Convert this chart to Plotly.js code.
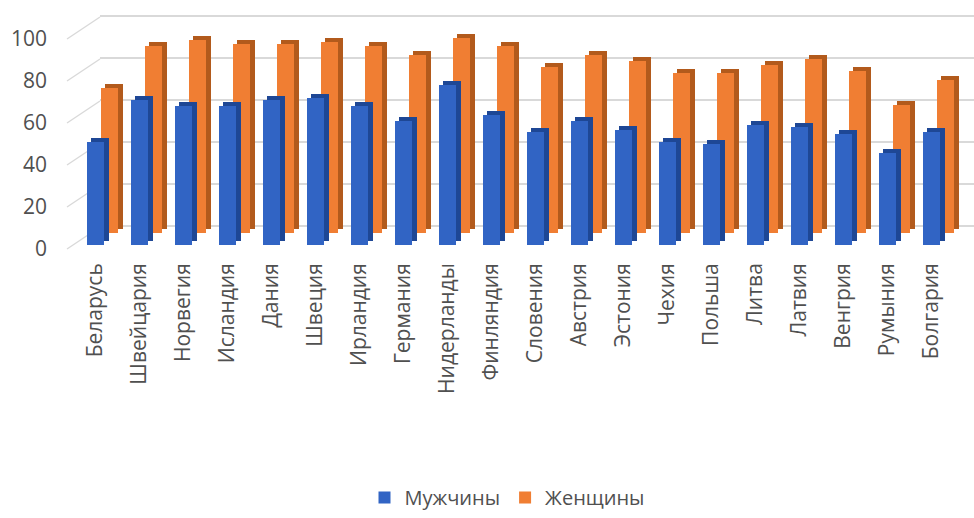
<!DOCTYPE html>
<html>
<head>
<meta charset="utf-8">
<script src="https://cdn.plot.ly/plotly-3.0.1.min.js"></script>
<style>html,body{margin:0;padding:0;background:#fff;}#chart{width:974px;height:518px;}</style>
</head>
<body>
<div id="chart"></div>
<script>
const categories = ["Беларусь","Швейцария","Норвегия","Исландия","Дания","Швеция","Ирландия","Германия","Нидерланды","Финляндия","Словения","Австрия","Эстония","Чехия","Польша","Литва","Латвия","Венгрия","Румыния","Болгария"];
const men   = [49,69,66,66,69,70,66,59,76,62,54,59,55,49,48,57,56,53,44,54];
const women = [69,89,92,90,90,91,89,85,93,89,79,85,82,76,76,80,83,77,61,73];
const seriesNames = ["Мужчины","Женщины"];
const yTicks = [0,20,40,60,80,100];

// layout geometry (pixels)
const W = 974, H = 518, L = 60, R = 0, T = 10, B = 260;
const plotW = W - L - R, plotH = H - T - B, frameBottom = H - B;
const step = 44;    // px per category
const ppu = 2.1;    // px per value unit
function xr(centerPx){ const r0 = -(centerPx - L) / step; return [r0, r0 + plotW / step]; }
function yr(basePx){ const r0 = -(frameBottom - basePx) / ppu; return [r0, r0 + plotH / ppu]; }
const idx = categories.map((c,i)=>i);

const blueFace = "#3164c4", blueSide = "#1e4795";
const orangeFace = "#f07e33", orangeSide = "#b25a1c";
const txt = "#505050";
const F = "Open Sans, Lato, sans-serif";

const hiddenX = (range) => ({range: range, visible: false, fixedrange: true});
const hiddenY = (range) => ({range: range, visible: false, fixedrange: true});

const barW = 0.39;
const data = [
  {type:"scatter", x:[0], y:[0], xaxis:"x", yaxis:"y", mode:"markers", marker:{opacity:0}, showlegend:false, hoverinfo:"skip"},
  {type:"bar", x: idx, y: women, xaxis:"x2", yaxis:"y2", width: barW, marker:{color: orangeSide}, showlegend:false, hoverinfo:"skip"},
  {type:"bar", name: seriesNames[1], x: idx, y: women, xaxis:"x3", yaxis:"y3", width: barW, marker:{color: orangeFace}, legendrank: 2},
  {type:"bar", x: idx, y: men, xaxis:"x4", yaxis:"y4", width: barW, marker:{color: blueSide}, showlegend:false, hoverinfo:"skip"},
  {type:"bar", name: seriesNames[0], x: idx, y: men, xaxis:"x5", yaxis:"y5", width: barW, marker:{color: blueFace}, legendrank: 1},
  {type:"scatter", x:[0], y:[0], xaxis:"x6", yaxis:"y6", mode:"markers", marker:{opacity:0}, showlegend:false, hoverinfo:"skip"}
];

const wallFrontX = (67 - L) / plotW, wallBackX = (100 - L) / plotW;
const backOffset = (248 - 226) / ppu;
const shapes = yTicks.map(v => ({
  type:"line", xref:"paper", yref:"y6", layer:"below",
  x0: wallFrontX, y0: v, x1: wallBackX, y1: v + backOffset,
  line:{color:"#d9d9d9", width:1.3}
}));

const layout = {
  width: W, height: H,
  margin: {l: L, r: R, t: T, b: B, autoexpand: false},
  paper_bgcolor: "#fff", plot_bgcolor: "rgba(0,0,0,0)",
  showlegend: true,
  bargap: 0,
  xaxis: {domain: [(100 - L) / plotW, 1], range:[0,1], showgrid:false, zeroline:false, showticklabels:false, ticks:"", showline:false, fixedrange:true},
  yaxis: {range: yr(226), tickvals: yTicks, showgrid:true, gridcolor:"#d9d9d9", gridwidth:1.3, zeroline:false, showticklabels:false, ticks:"", showline:false, fixedrange:true},
  xaxis2: hiddenX(xr(114)), yaxis2: hiddenY(yr(229)),
  xaxis3: hiddenX(xr(109.5)), yaxis3: hiddenY(yr(233)),
  xaxis4: hiddenX(xr(100)), yaxis4: hiddenY(yr(241)),
  xaxis5: {range: xr(95.5), tickvals: idx, ticktext: categories, tickangle: -90,
           tickfont:{family: F, size: 21, color: txt}, showgrid:false, zeroline:false,
           showline:false, ticks:"", fixedrange:true, anchor:"y5", automargin:false},
  yaxis5: hiddenY(yr(245)),
  xaxis6: hiddenX([0,1]),
  yaxis6: {range: yr(249), tickvals: yTicks, showgrid:false, zeroline:false, showline:false, ticks:"",
           tickfont:{family: F, size: 21, color: txt}, ticklabelstandoff: 12, anchor:"x6", fixedrange:true, automargin:false},
  legend: {orientation:"h", x: (507 - L) / plotW, xanchor:"center", y: (frameBottom - 517) / plotH, yanchor:"bottom",
           font:{family: F, size: 20, color: txt}, traceorder:"normal", itemwidth: 30, borderwidth: 0},
  shapes: shapes
};

Plotly.newPlot("chart", data, layout, {displayModeBar:false, staticPlot:true});
</script>
</body>
</html>
